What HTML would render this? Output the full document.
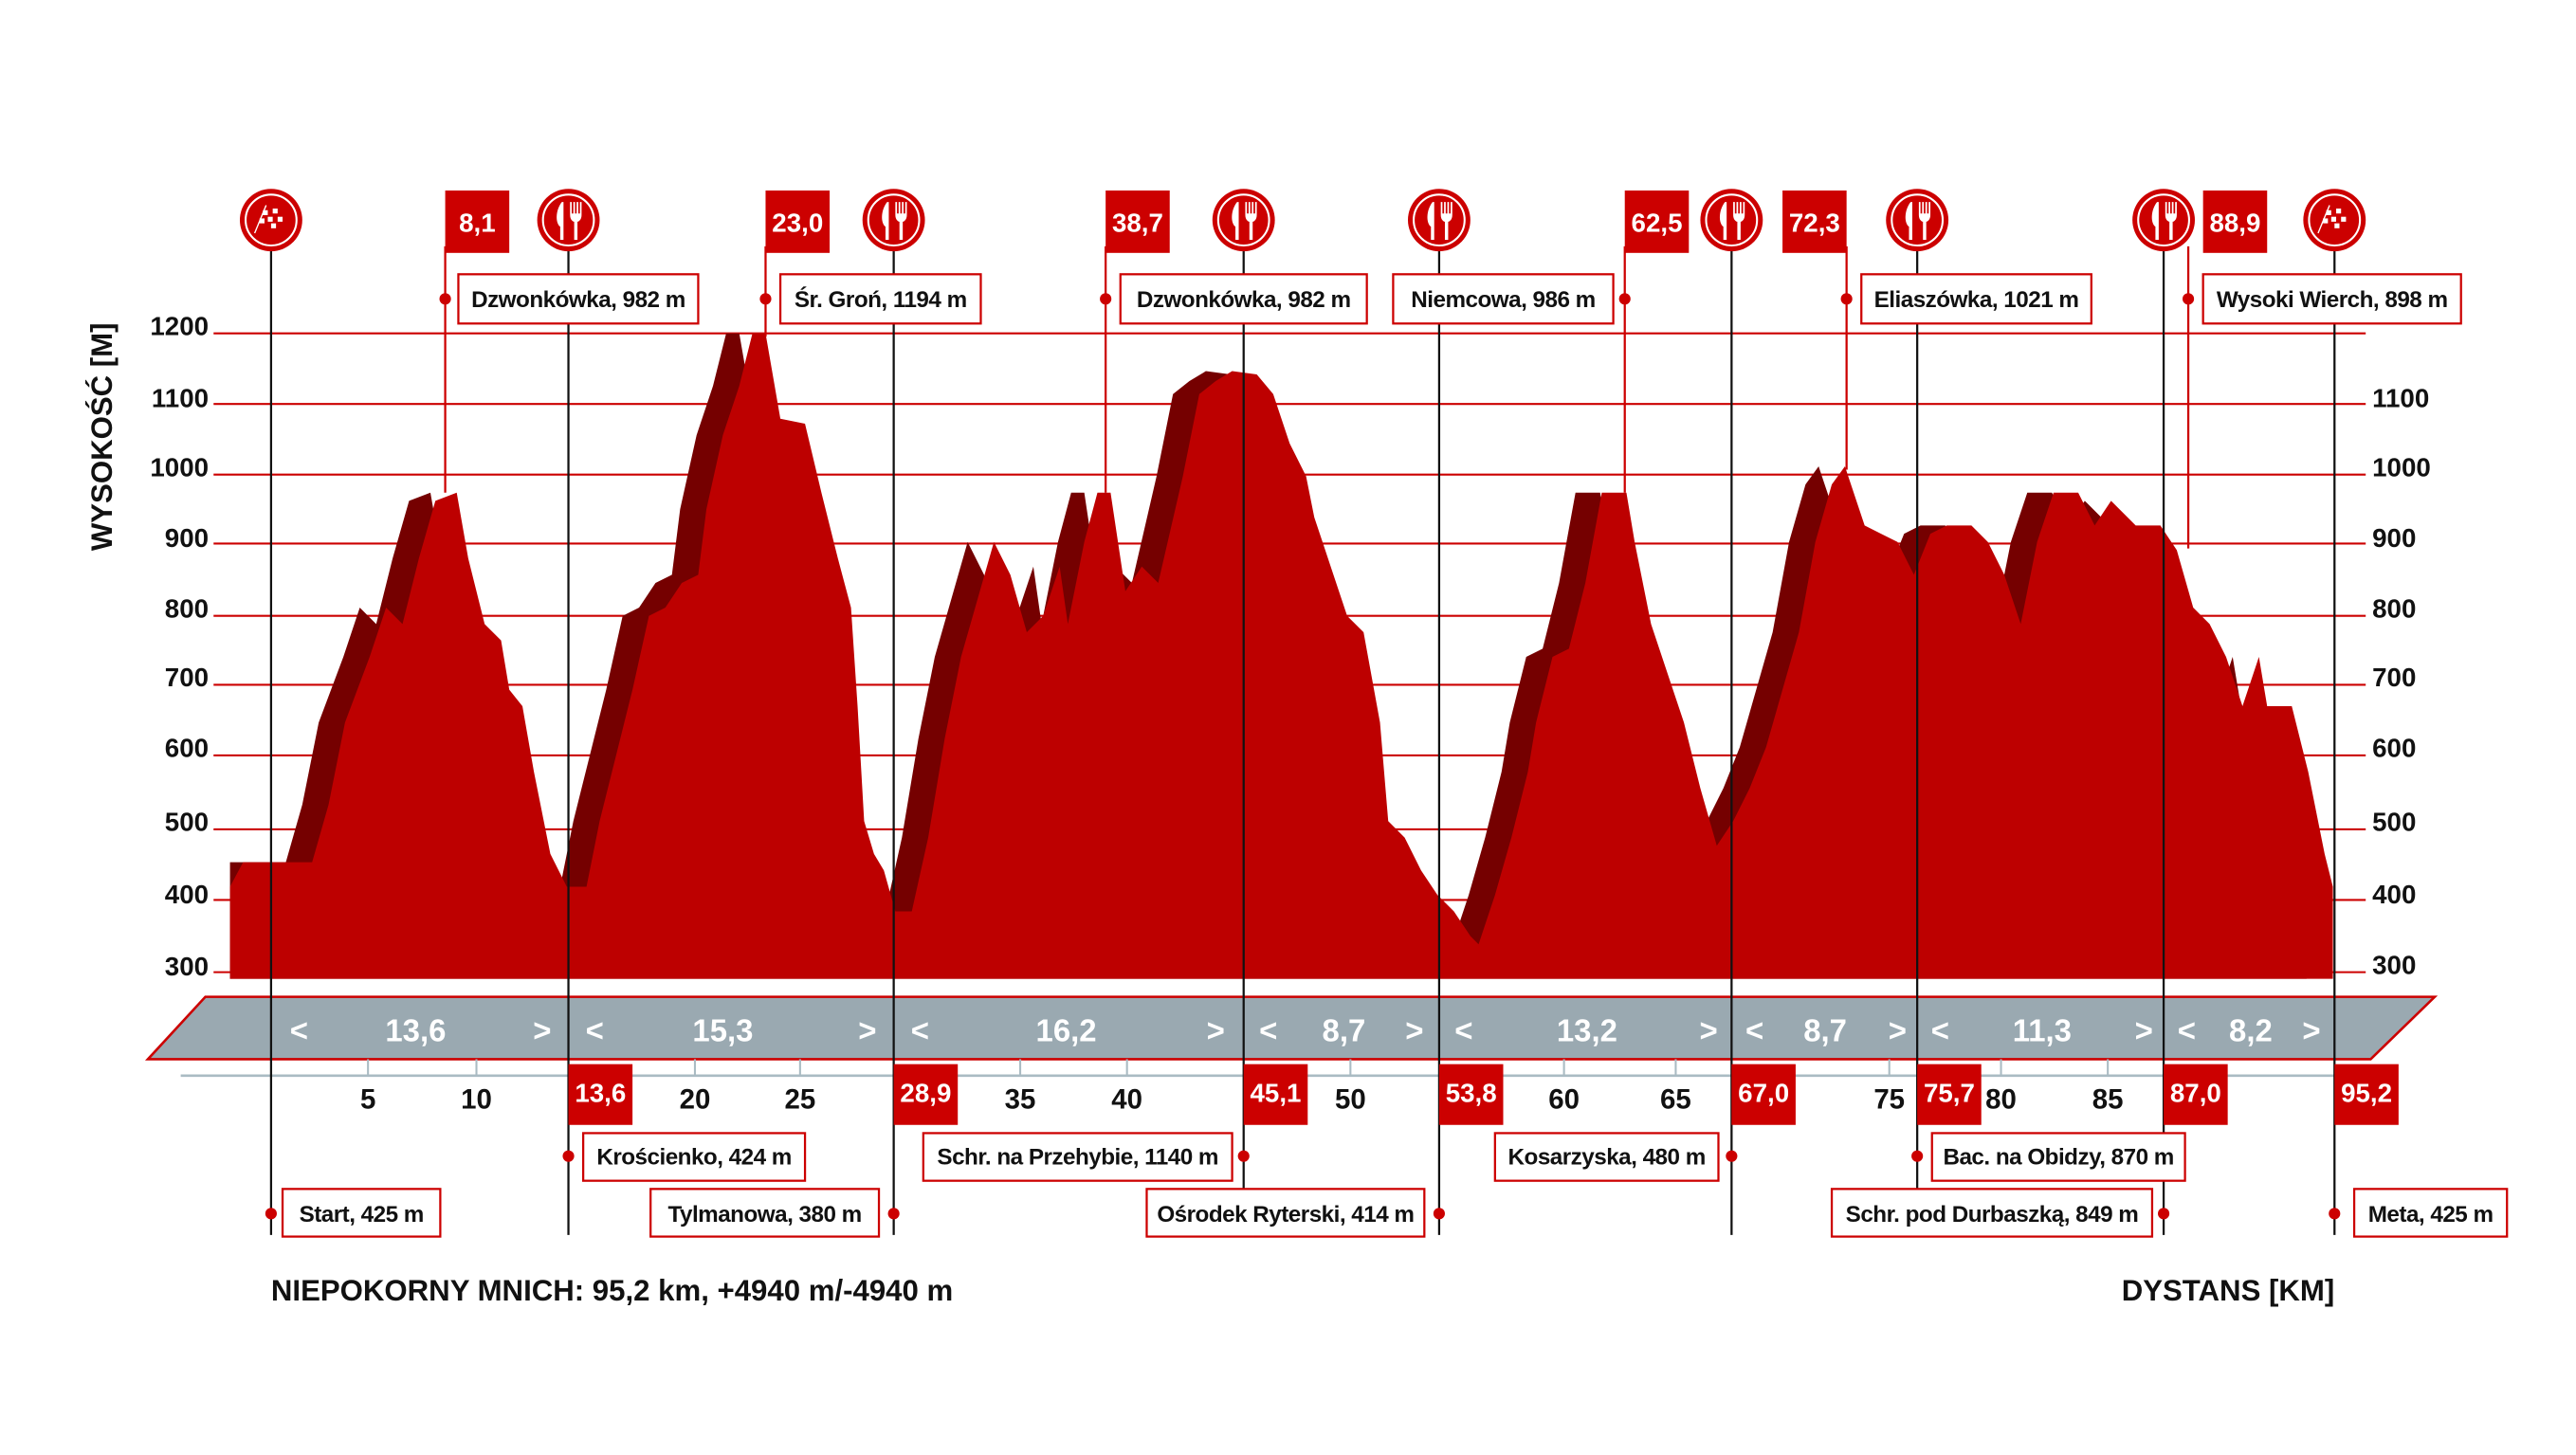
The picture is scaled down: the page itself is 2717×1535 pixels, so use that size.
<!DOCTYPE html>
<html><head><meta charset="utf-8"><style>
html,body{margin:0;padding:0;background:#fff;}
svg{display:block;}
text{font-family:"Liberation Sans",sans-serif;}
</style></head><body>
<svg width="2717" height="1535" viewBox="0 0 1568 886" preserveAspectRatio="none" xmlns="http://www.w3.org/2000/svg">
<defs>
<clipPath id="cp"><rect x="140" y="150" width="1281" height="447"/></clipPath>
<path id="pp" d="M140,596 L140,540 L148,525 L190,525 L200,490 L210,440 L225,400 L235,370 L245,380 L255,340 L265,305 L278,300 L285,340 L295,380 L305,390 L310,420 L318,430 L325,470 L335,520 L345,540 L357,540 L365,500 L375,460 L385,420 L395,375 L405,370 L415,355 L425,350 L430,310 L440,265 L450,235 L458,203 L466,203 L475,255 L490,258 L500,300 L510,340 L518,370 L522,430 L526,500 L532,520 L538,530 L545,555 L555,555 L565,510 L575,450 L585,400 L595,365 L605,330 L615,350 L625,385 L635,375 L645,345 L650,380 L660,330 L668,300 L676,300 L685,360 L695,345 L705,355 L720,290 L730,240 L740,232 L750,226 L765,228 L775,240 L785,270 L795,290 L800,315 L810,345 L820,375 L830,385 L840,440 L845,500 L855,510 L865,530 L875,545 L885,555 L895,570 L900,575 L905,560 L910,545 L920,510 L930,470 L935,440 L945,400 L955,395 L965,355 L975,300 L990,300 L995,330 L1005,380 L1015,410 L1025,440 L1035,480 L1045,515 L1055,500 L1065,480 L1075,455 L1085,420 L1095,385 L1105,330 L1115,295 L1123,284 L1135,320 L1145,325 L1155,330 L1165,350 L1175,325 L1185,320 L1200,320 L1210,330 L1220,350 L1230,380 L1240,330 L1250,300 L1265,300 L1275,320 L1285,305 L1300,320 L1315,320 L1325,335 L1335,370 L1345,380 L1355,400 L1365,430 L1375,400 L1380,430 L1395,430 L1405,470 L1415,520 L1420,540 L1420,596 Z"/>
<g id="fork"><circle r="19" fill="#cc0000"/><circle r="15.5" fill="none" stroke="#fff" stroke-width="1.2"/>
<path d="M-4,-11 C-8,-6 -8,2 -5,4 L-5,12 L-3,12 L-3,-11 Z" fill="#fff"/>
<path d="M1,-11 L1,-3 C1,0 3,1 3.5,1 L3.5,12 L5.5,12 L5.5,1 C6,1 8,0 8,-3 L8,-11 L7,-11 L7,-4 L6,-4 L6,-11 L5,-11 L5,-4 L4,-4 L4,-11 L3,-11 L3,-4 L2,-4 L2,-11 Z" fill="#fff"/></g>
<g id="flag"><circle r="19" fill="#cc0000"/><circle r="15.5" fill="none" stroke="#fff" stroke-width="1.2"/>
<line x1="-10" y1="8" x2="-3" y2="-9" stroke="#fff" stroke-width="0.8"/>
<g fill="#fff"><rect x="-5" y="-6" width="3" height="3"/><rect x="1" y="-7" width="3" height="3"/><rect x="-2" y="-2" width="3" height="3"/><rect x="4" y="-2" width="3" height="3"/><rect x="-7" y="-1" width="3" height="3"/><rect x="0" y="2" width="3" height="3"/></g></g>
</defs>
<g stroke="#cc0000" stroke-width="1.2">
<line x1="130" y1="203" x2="1440" y2="203"/><line x1="130" y1="246" x2="1440" y2="246"/><line x1="130" y1="289" x2="1440" y2="289"/><line x1="130" y1="331" x2="1440" y2="331"/><line x1="130" y1="375" x2="1440" y2="375"/><line x1="130" y1="417" x2="1440" y2="417"/><line x1="130" y1="460" x2="1440" y2="460"/><line x1="130" y1="505" x2="1440" y2="505"/><line x1="130" y1="548" x2="1440" y2="548"/><line x1="130" y1="592" x2="1440" y2="592"/>
</g>
<g font-size="16" font-weight="bold" fill="#111" text-anchor="end">
<text x="127" y="204">1200</text><text x="127" y="248">1100</text><text x="127" y="290">1000</text><text x="127" y="333">900</text><text x="127" y="376">800</text><text x="127" y="418">700</text><text x="127" y="461">600</text><text x="127" y="506">500</text><text x="127" y="550">400</text><text x="127" y="594">300</text>
</g>
<g font-size="16" font-weight="bold" fill="#111">
<text x="1444" y="248">1100</text><text x="1444" y="290">1000</text><text x="1444" y="333">900</text><text x="1444" y="376">800</text><text x="1444" y="418">700</text><text x="1444" y="461">600</text><text x="1444" y="506">500</text><text x="1444" y="550">400</text><text x="1444" y="593">300</text>
</g>
<text x="0" y="0" transform="translate(68,266) rotate(-90)" text-anchor="middle" font-size="18" font-weight="bold" fill="#111">WYSOKOŚĆ [M]</text>
<g clip-path="url(#cp)"><use href="#pp" transform="translate(-16,0)" fill="#750000"/></g>
<use href="#pp" fill="#bd0000"/>
<polygon points="125,607 1482,607 1443,645 90,645" fill="#9aa9b1" stroke="#cc0000" stroke-width="1.5"/>
<line x1="110" y1="655" x2="1440" y2="655" stroke="#aabbc3" stroke-width="1.5"/>
<g stroke="#aabbc3" stroke-width="1.2">
<line x1="224" y1="645" x2="224" y2="655"/><line x1="290" y1="645" x2="290" y2="655"/><line x1="423" y1="645" x2="423" y2="655"/><line x1="487" y1="645" x2="487" y2="655"/><line x1="621" y1="645" x2="621" y2="655"/><line x1="686" y1="645" x2="686" y2="655"/><line x1="822" y1="645" x2="822" y2="655"/><line x1="952" y1="645" x2="952" y2="655"/><line x1="1020" y1="645" x2="1020" y2="655"/><line x1="1150" y1="645" x2="1150" y2="655"/><line x1="1218" y1="645" x2="1218" y2="655"/><line x1="1283" y1="645" x2="1283" y2="655"/>
</g>
<g font-size="17" font-weight="bold" fill="#111" text-anchor="middle">
<text x="224" y="675">5</text><text x="290" y="675">10</text><text x="423" y="675">20</text><text x="487" y="675">25</text><text x="621" y="675">35</text><text x="686" y="675">40</text><text x="822" y="675">50</text><text x="952" y="675">60</text><text x="1020" y="675">65</text><text x="1150" y="675">75</text><text x="1218" y="675">80</text><text x="1283" y="675">85</text>
</g>
<g font-size="19" font-weight="bold" fill="#fff" text-anchor="middle">
<text x="182" y="634">&lt;</text><text x="253" y="634">13,6</text><text x="330" y="634">&gt;</text>
<text x="362" y="634">&lt;</text><text x="440" y="634">15,3</text><text x="528" y="634">&gt;</text>
<text x="560" y="634">&lt;</text><text x="649" y="634">16,2</text><text x="740" y="634">&gt;</text>
<text x="772" y="634">&lt;</text><text x="818" y="634">8,7</text><text x="861" y="634">&gt;</text>
<text x="891" y="634">&lt;</text><text x="966" y="634">13,2</text><text x="1040" y="634">&gt;</text>
<text x="1068" y="634">&lt;</text><text x="1111" y="634">8,7</text><text x="1155" y="634">&gt;</text>
<text x="1181" y="634">&lt;</text><text x="1243" y="634">11,3</text><text x="1305" y="634">&gt;</text>
<text x="1331" y="634">&lt;</text><text x="1370" y="634">8,2</text><text x="1407" y="634">&gt;</text>
</g>
<g stroke="#111" stroke-width="1.3">
<line x1="165" y1="150" x2="165" y2="752"/><line x1="346" y1="150" x2="346" y2="752"/><line x1="544" y1="150" x2="544" y2="752"/><line x1="757" y1="150" x2="757" y2="752"/><line x1="876" y1="150" x2="876" y2="752"/><line x1="1054" y1="150" x2="1054" y2="752"/><line x1="1167" y1="150" x2="1167" y2="752"/><line x1="1317" y1="150" x2="1317" y2="752"/><line x1="1421" y1="150" x2="1421" y2="752"/>
</g>
<g stroke="#cc0000" stroke-width="1.3">
<line x1="271" y1="150" x2="271" y2="300"/><line x1="466" y1="150" x2="466" y2="205"/><line x1="673" y1="150" x2="673" y2="300"/><line x1="989" y1="150" x2="989" y2="300"/><line x1="1124" y1="150" x2="1124" y2="286"/><line x1="1332" y1="150" x2="1332" y2="334"/>
</g>
<g fill="#cc0000">
<circle cx="271" cy="182" r="3.5"/><circle cx="466" cy="182" r="3.5"/><circle cx="673" cy="182" r="3.5"/><circle cx="989" cy="182" r="3.5"/><circle cx="1124" cy="182" r="3.5"/><circle cx="1332" cy="182" r="3.5"/>
<circle cx="346" cy="704" r="3.5"/><circle cx="757" cy="704" r="3.5"/><circle cx="1054" cy="704" r="3.5"/><circle cx="1167" cy="704" r="3.5"/>
<circle cx="165" cy="739" r="3.5"/><circle cx="544" cy="739" r="3.5"/><circle cx="876" cy="739" r="3.5"/><circle cx="1317" cy="739" r="3.5"/><circle cx="1421" cy="739" r="3.5"/>
</g>
<use href="#flag" x="165" y="134"/><use href="#fork" x="346" y="134"/><use href="#fork" x="544" y="134"/><use href="#fork" x="757" y="134"/><use href="#fork" x="876" y="134"/><use href="#fork" x="1054" y="134"/><use href="#fork" x="1167" y="134"/><use href="#fork" x="1317" y="134"/><use href="#flag" x="1421" y="134"/>
<g fill="#cc0000">
<rect x="271" y="116" width="39" height="38"/><rect x="466" y="116" width="39" height="38"/><rect x="673" y="116" width="39" height="38"/><rect x="989" y="116" width="39" height="38"/><rect x="1085" y="116" width="39" height="38"/><rect x="1341" y="116" width="39" height="38"/>
<rect x="346" y="648" width="39" height="37"/><rect x="544" y="648" width="39" height="37"/><rect x="757" y="648" width="39" height="37"/><rect x="876" y="648" width="39" height="37"/><rect x="1054" y="648" width="39" height="37"/><rect x="1167" y="648" width="39" height="37"/><rect x="1317" y="648" width="39" height="37"/><rect x="1421" y="648" width="39" height="37"/>
</g>
<g font-size="16" font-weight="bold" fill="#fff" text-anchor="middle">
<text x="290.5" y="141">8,1</text><text x="485.5" y="141">23,0</text><text x="692.5" y="141">38,7</text><text x="1008.5" y="141">62,5</text><text x="1104.5" y="141">72,3</text><text x="1360.5" y="141">88,9</text>
<text x="365.5" y="671">13,6</text><text x="563.5" y="671">28,9</text><text x="776.5" y="671">45,1</text><text x="895.5" y="671">53,8</text><text x="1073.5" y="671">67,0</text><text x="1186.5" y="671">75,7</text><text x="1336.5" y="671">87,0</text><text x="1440.5" y="671">95,2</text>
</g>
<g fill="#fff" stroke="#cc0000" stroke-width="1.3">
<rect x="279" y="167" width="146" height="30"/><rect x="475" y="167" width="122" height="30"/><rect x="682" y="167" width="150" height="30"/><rect x="848" y="167" width="134" height="30"/><rect x="1133" y="167" width="140" height="30"/><rect x="1341" y="167" width="157" height="30"/>
<rect x="355" y="690" width="135" height="29"/><rect x="562" y="690" width="188" height="29"/><rect x="910" y="690" width="136" height="29"/><rect x="1176" y="690" width="154" height="29"/>
<rect x="172" y="724" width="96" height="29"/><rect x="396" y="724" width="139" height="29"/><rect x="698" y="724" width="169" height="29"/><rect x="1115" y="724" width="195" height="29"/><rect x="1433" y="724" width="93" height="29"/>
</g>
<g font-size="14" font-weight="bold" fill="#111" text-anchor="middle" letter-spacing="-0.3">
<text x="352" y="187">Dzwonkówka, 982 m</text><text x="536" y="187">Śr. Groń, 1194 m</text><text x="757" y="187">Dzwonkówka, 982 m</text><text x="915" y="187">Niemcowa, 986 m</text><text x="1203" y="187">Eliaszówka, 1021 m</text><text x="1419.5" y="187">Wysoki Wierch, 898 m</text>
<text x="422.5" y="709">Krościenko, 424 m</text><text x="656" y="709">Schr. na Przehybie, 1140 m</text><text x="978" y="709">Kosarzyska, 480 m</text><text x="1253" y="709">Bac. na Obidzy, 870 m</text>
<text x="220" y="744">Start, 425 m</text><text x="465.5" y="744">Tylmanowa, 380 m</text><text x="782.5" y="744">Ośrodek Ryterski, 414 m</text><text x="1212.5" y="744">Schr. pod Durbaszką, 849 m</text><text x="1479.5" y="744">Meta, 425 m</text>
</g>
<text x="165" y="792" font-size="18" font-weight="bold" fill="#111">NIEPOKORNY MNICH: 95,2 km, +4940 m/-4940 m</text>
<text x="1421" y="792" font-size="18" font-weight="bold" fill="#111" text-anchor="end">DYSTANS [KM]</text>
</svg>
</body></html>
